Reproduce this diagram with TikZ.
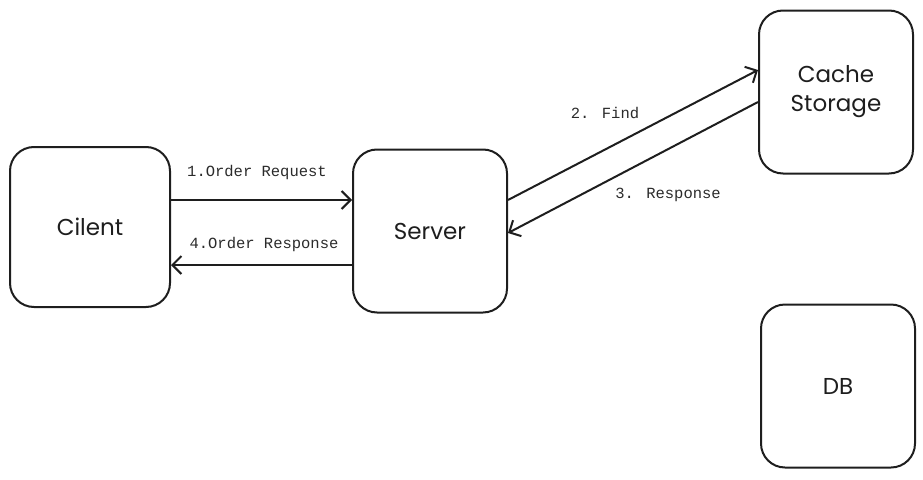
\documentclass[tikz,border=0pt]{standalone}
\usepackage{fontspec}
\setmainfont{Poppins}
\newfontfamily\labelfont{Liberation Mono}
\usepackage{tikz}
\usetikzlibrary{positioning, arrows.meta, calc}
\usepackage{xcolor}
\definecolor{inkDark}{HTML}{1E1E1E}
\definecolor{inkLabel}{HTML}{2B2B2B}

\tikzset{
  sysbox/.style={draw=inkDark, line width=2pt, rounded corners=24pt, fill=white,
    text=inkDark, align=center, font=\fontsize{23}{29}\selectfont, inner sep=0pt},
  flow/.style={draw=inkDark, line width=2pt,
    -{Straight Barb[length=9pt, width=18pt, line width=2pt]}},
  msg/.style={text=inkLabel, font=\labelfont\fontsize{15.5}{17}\selectfont, inner sep=0pt}
}

\begin{document}
\begin{tikzpicture}[x=1pt, y=-1pt]
        \useasboundingbox (0,0) rectangle (923,479);
        % Knoten
        \node[sysbox, minimum width=160pt, minimum height=160pt] (cilent) at (90,227) {Cilent};
        \node[sysbox, minimum width=154pt, minimum height=163pt] (server) at (430,231) {Server};
        \node[sysbox, minimum width=154pt, minimum height=163pt] (cache) at (836,92) {Cache\\Storage};
        \node[sysbox, minimum width=154pt, minimum height=163pt] (db) at (838,386) {DB};
        % Anfrage und Antwort
        \draw[flow] ([yshift=27]cilent.east) -- ([yshift=27]cilent.east -| server.west);
        \draw[flow] ([yshift=-34]server.west) -- ([yshift=-34]server.west -| cilent.east);
        \draw[flow] ([yshift=31]server.east) -- ([yshift=22]cache.west);
        \draw[flow] ([yshift=-10]cache.west) -- ([yshift=-2]server.east);
        % Beschriftungen
        \node[msg] (req) at (257,172) {1.Order Request};
        \node[msg] (resp) at (264,244) {4.Order Response};
        \node[msg] (find) at (605,113) {2. Find};
        \node[msg] (cresp) at (668,195) {3. Response};
      \end{tikzpicture}
\end{document}
